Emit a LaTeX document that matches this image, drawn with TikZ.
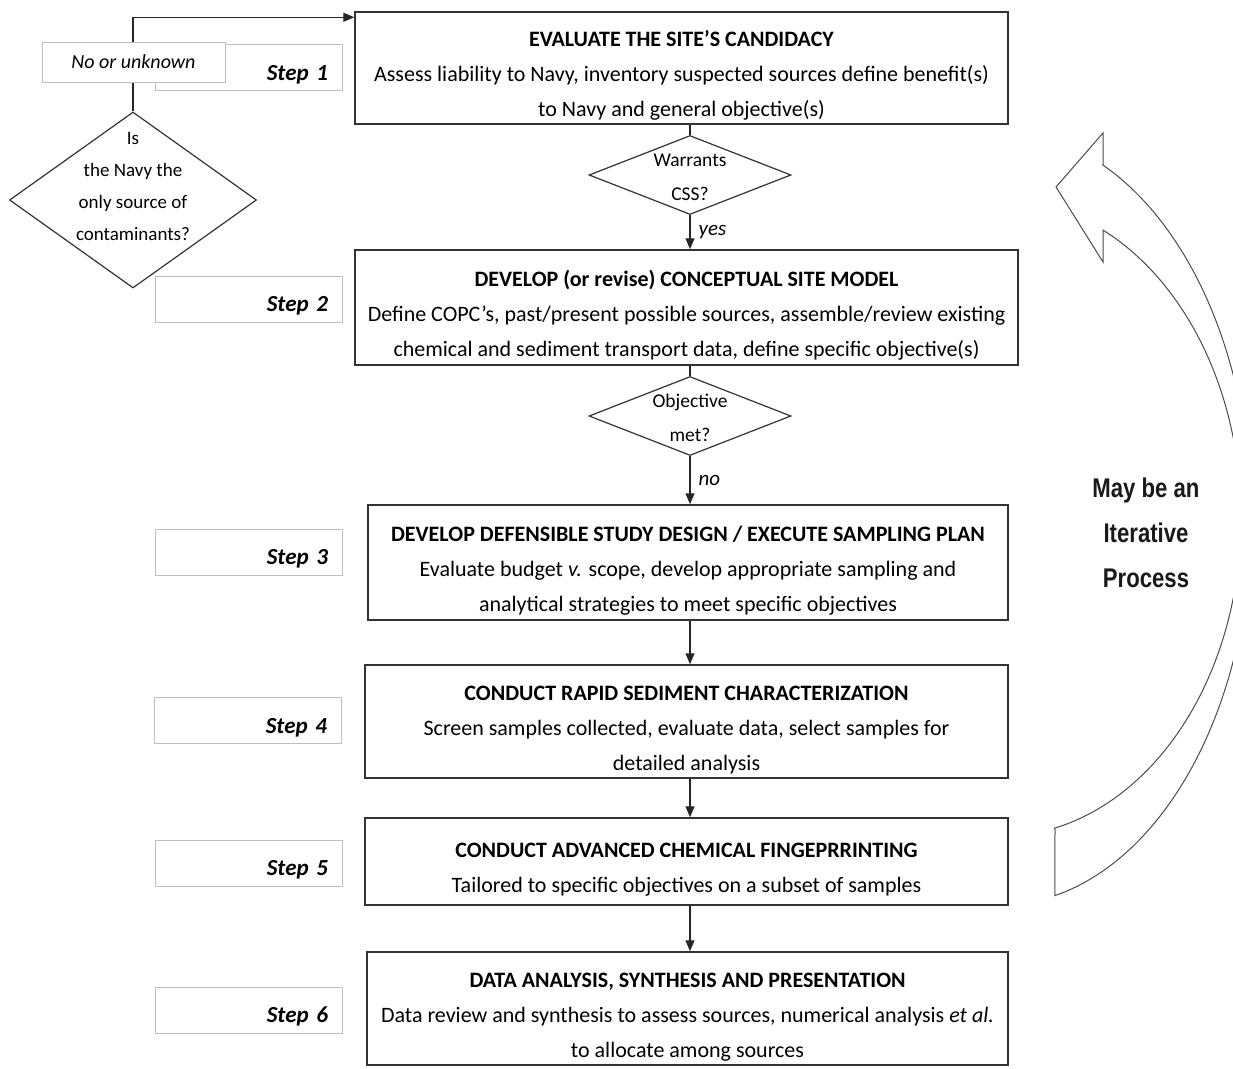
\documentclass[tikz,border=0pt]{standalone}
\usepackage{fontspec}
\setmainfont{Carlito}
\newfontfamily\iterfont{Liberation Sans}[FakeStretch=0.82]
\usepackage{tikz}
\usetikzlibrary{arrows.meta,positioning,shapes.geometric}
\usepackage{xcolor}
\newcommand{\boxtitle}[1]{\rule{0pt}{31pt}\textbf{#1}}

\begin{document}
\begin{tikzpicture}[
            x=1pt, y=-1pt,
            box/.style={rectangle, draw=black!80, line width=1.5pt, align=center, inner sep=0pt, fill=white, font={\fontsize{22}{35}\selectfont}},
            stepbox/.style={rectangle, draw=black!25, line width=1pt, fill=white, align=right, inner sep=0pt, text width=159pt, minimum width=187pt, minimum height=46pt, font={\fontsize{23}{26}\selectfont\bfseries\itshape}, execute at begin node={\rule{0pt}{29pt}}},
            decision/.style={diamond, aspect=2.6, draw=black!80, line width=1.2pt, align=center, inner sep=-2pt, text height=52pt, fill=white, font={\fontsize{19.5}{34}\selectfont}},
            answer/.style={font={\fontsize{21}{24}\selectfont\itshape}, inner sep=8pt},
            line/.style={line width=1.3pt, draw=black!85},
            arrow/.style={line, -{Triangle[length=11pt,width=9pt]}},
            iterarrow/.style={draw=black!70, line width=1pt, fill=white}
        ]
            \useasboundingbox (0,0) rectangle (1233,1068);

            % --- STEPS ---
            \node[box, minimum width=653pt, minimum height=112pt] (site) at (681.5,68)
                {\boxtitle{EVALUATE THE SITE'S CANDIDACY}\\Assess liability to Navy, inventory suspected sources define benefit(s)\\to Navy and general objective(s)};
            \node[decision, minimum width=202pt, minimum height=79pt] (warrants) at (690,175) {Warrants\\CSS?};
            \node[box, minimum width=663pt, minimum height=115pt] (model) at (686.5,307.5)
                {\boxtitle{DEVELOP (or revise) CONCEPTUAL SITE MODEL}\\Define COPC's, past/present possible sources, assemble/review existing\\chemical and sediment transport data, define specific objective(s)};
            \node[decision, minimum width=202pt, minimum height=79pt] (objective) at (690,416) {Objective\\met?};
            \node[box, minimum width=640pt, minimum height=115pt] (design) at (688,562.5)
                {\boxtitle{DEVELOP DEFENSIBLE STUDY DESIGN / EXECUTE SAMPLING PLAN}\\Evaluate budget \textit{v.} scope, develop appropriate sampling and\\analytical strategies to meet specific objectives};
            \node[box, minimum width=643pt, minimum height=113pt] (rapid) at (686.5,721.5)
                {\boxtitle{CONDUCT RAPID SEDIMENT CHARACTERIZATION}\\Screen samples collected, evaluate data, select samples for\\detailed analysis};
            \node[box, minimum width=643pt, minimum height=87pt] (finger) at (686.5,861.5)
                {\boxtitle{CONDUCT ADVANCED CHEMICAL FINGEPRRINTING}\\Tailored to specific objectives on a subset of samples};
            \node[box, minimum width=641pt, minimum height=113pt] (analysis) at (687.5,1008.5)
                {\boxtitle{DATA ANALYSIS, SYNTHESIS AND PRESENTATION}\\Data review and synthesis to assess sources, numerical analysis \textit{et al.}\\to allocate among sources};

            % --- STEP LABELS ---
            \node[stepbox] (step1) at (248.5,67.5) {Step 1};
            \node[stepbox] (step2) at (248.5,299) {Step 2};
            \node[stepbox] (step3) at (248.5,552) {Step 3};
            \node[stepbox] (step4) at (247.5,720.5) {Step 4};
            \node[stepbox] (step5) at (248.5,863) {Step 5};
            \node[stepbox] (step6) at (248.5,1010) {Step 6};

            % --- SOURCE QUESTION ---
            \node[decision, aspect=1.4, minimum width=247pt, minimum height=176pt] (navy) at (133,200) {};
            \node[font={\fontsize{19}{32}\selectfont}, align=center] (navytext) at (133,186) {Is\\the Navy the\\only source of\\contaminants?};

            % --- LINKS ---
            \draw[line] (warrants.north |- site.south) -- (warrants.north);
            \draw[arrow] (warrants.south) -- node[answer, right] {yes} (warrants.south |- model.north);
            \draw[line] (objective.north |- model.south) -- (objective.north);
            \draw[arrow] (objective.south) -- node[answer, right] {no} (objective.south |- design.north);
            \draw[arrow] (objective.south |- design.south) -- (objective.south |- rapid.north);
            \draw[arrow] (objective.south |- rapid.south) -- (objective.south |- finger.north);
            \draw[arrow] (objective.south |- finger.south) -- (objective.south |- analysis.north);
            \draw[arrow] (navy.north) |- ([yshift=-6pt]site.north west);

            \node[rectangle, draw=black!25, line width=1pt, fill=white, minimum width=183pt, minimum height=40pt, font={\fontsize{20}{24}\selectfont\itshape}] (unknown) at (133.5,62) {No or unknown};

            % --- ITERATION ---
            \begin{scope}
                \clip (0,0) rectangle (1233,1068);
                \draw[iterarrow] (1056,187) -- (1103,133) -- (1103,165)
                    -- plot[domain=-65.8:77.4, samples=60, smooth] ({1000+251*cos(\x)},{518+387*sin(\x)})
                    -- (1055,830)
                    -- plot[domain=76.9:-64.7, samples=60, smooth] ({1000+241*cos(\x)},{518+318.5*sin(\x)})
                    -- (1103,262) -- cycle;
            \end{scope}
            \node[align=center, text=black!90, font={\iterfont\bfseries\fontsize{27}{45}\selectfont}] (iterative) at (1146,533) {May be an\\Iterative\\Process};
        \end{tikzpicture}
\end{document}
